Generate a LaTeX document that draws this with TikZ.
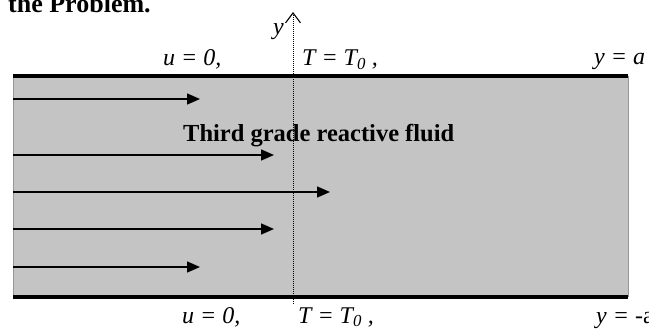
\documentclass[tikz,border=0pt]{standalone}
\usepackage{fontspec}
\setmainfont{Liberation Serif}
\usetikzlibrary{arrows.meta}
\definecolor{fluidgray}{RGB}{196,196,196}
\definecolor{sidegray}{RGB}{150,150,150}

\begin{document}
\begin{tikzpicture}[x=1pt, y=-1pt,
  lbl/.style={anchor=base west, inner sep=0pt, font=\fontsize{24}{28}\selectfont\itshape},
  boldtext/.style={anchor=base west, inner sep=0pt, font=\fontsize{24.5}{28}\selectfont\bfseries},
  wall/.style={line width=4.5pt},
  flow/.style={line width=1.5pt, -{Triangle[length=13pt, width=11pt]}},
  axis/.style={line width=0.9pt, dash pattern=on 1pt off 1pt, -{Straight Barb[length=10pt, width=15pt, line width=1.1pt]}}]
\useasboundingbox (0,0) rectangle (649,329);
\node[boldtext, font=\fontsize{26}{30}\selectfont\bfseries] (title) at (8,12.5) {the Problem.};
% channel
\fill[fluidgray] (13,76) rectangle (628,297);
\draw[sidegray, line width=1pt] (13,76) -- (13,297) (628,76) -- (628,297);
\draw[wall] (13,76) -- (628,76);
\draw[wall] (13,297) -- (628,297);
% velocity profile
\foreach \yy/\tip [count=\i] in {99/200, 155/274, 192/330, 229/274, 267/200}
{
  \coordinate (s\i) at (13,\yy);
  \coordinate (e\i) at (\tip,\yy);
  \draw[flow] (s\i) -- (e\i);
}
\node[boldtext] (fluid) at (183,142) {Third grade reactive fluid};
% y axis
\coordinate (ybot) at (293,304);
\coordinate (ytop) at (293,12);
\draw[axis] (ybot) -- (ytop);
\node[lbl] (ylab) at (273,35) {y};
% boundary conditions
\node[lbl] (utop) at (163,66) {u = 0,};
\node[lbl] (Ttop) at (302,66) {T = T\textsubscript{0} ,};
\node[lbl] (atop) at (594,65) {y = a};
\node[lbl] (ubot) at (182,323) {u = 0,};
\node[lbl] (Tbot) at (298,323) {T = T\textsubscript{0} ,};
\node[lbl] (abot) at (596,323) {y = -\upshape a};
\end{tikzpicture}
\end{document}
